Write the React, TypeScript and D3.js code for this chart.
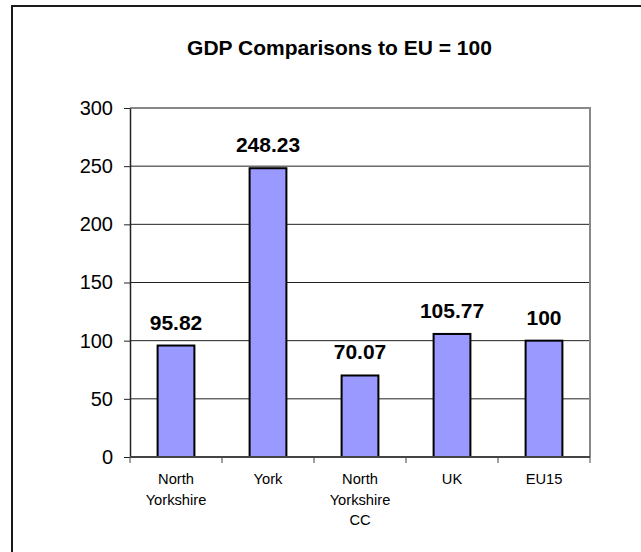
import * as React from "react";
import * as d3 from "d3";
import { useEffect, useRef } from "react";

const categories = ["North Yorkshire", "York", "North Yorkshire CC", "UK", "EU15"];
const labelLines = [["North", "Yorkshire"], ["York"], ["North", "Yorkshire", "CC"], ["UK"], ["EU15"]];
const values = [95.82, 248.23, 70.07, 105.77, 100];
const valueLabels = ["95.82", "248.23", "70.07", "105.77", "100"];
const yTicks = [0, 50, 100, 150, 200, 250, 300];
const title = "GDP Comparisons to EU = 100";

function drawChart(svgRef: React.RefObject<SVGSVGElement>) {
  const svg = d3.select(svgRef.current);
  svg.selectAll("*").remove();

  const width = 641;
  const height = 552;
  const left = 130;
  const right = 590;
  const top = 108;
  const bottom = 457;
  const font = "Arial, 'Liberation Sans', sans-serif";

  svg.attr("width", width).attr("height", height);

  // outer frame (right and bottom edges run off the picture)
  svg
    .append("rect")
    .attr("x", 12)
    .attr("y", 6)
    .attr("width", width + 20)
    .attr("height", height + 20)
    .attr("fill", "white")
    .attr("stroke", "#1a1a1a")
    .attr("stroke-width", 2);

  svg
    .append("text")
    .attr("x", 339.5)
    .attr("y", 55)
    .attr("text-anchor", "middle")
    .attr("font-family", font)
    .attr("font-weight", "bold")
    .attr("font-size", 21)
    .text(title);

  const x = d3.scaleBand().domain(categories).range([left, right]).paddingInner(0).paddingOuter(0);
  const y = d3.scaleLinear().domain([0, 300]).range([bottom, top]);

  // grid lines
  svg
    .append("g")
    .selectAll("line")
    .data(yTicks.filter((t) => t > 0 && t < 300))
    .enter()
    .append("line")
    .attr("x1", left)
    .attr("x2", right)
    .attr("y1", (d) => y(d))
    .attr("y2", (d) => y(d))
    .attr("stroke", "#222")
    .attr("stroke-width", 1);

  // plot area border top/right
  svg
    .append("path")
    .attr("d", `M${left},${y(300)}H${right}V${bottom}`)
    .attr("fill", "none")
    .attr("stroke", "#888")
    .attr("stroke-width", 2);

  // bars
  const barW = x.bandwidth() * 0.4;
  svg
    .append("g")
    .selectAll("rect")
    .data(values)
    .enter()
    .append("rect")
    .attr("x", (d, i) => x(categories[i])! + (x.bandwidth() - barW) / 2)
    .attr("y", (d) => y(d))
    .attr("width", barW)
    .attr("height", (d) => bottom - y(d))
    .attr("fill", "#9999ff")
    .attr("stroke", "#000")
    .attr("stroke-width", 2);

  // value labels
  svg
    .append("g")
    .selectAll("text")
    .data(values)
    .enter()
    .append("text")
    .attr("x", (d, i) => x(categories[i])! + x.bandwidth() / 2)
    .attr("y", (d) => y(d) - 16)
    .attr("text-anchor", "middle")
    .attr("font-family", font)
    .attr("font-weight", "bold")
    .attr("font-size", 21)
    .text((d, i) => valueLabels[i]);

  // y axis
  const yAxis = d3.axisLeft(y).tickValues(yTicks).tickSize(6).tickSizeOuter(0).tickPadding(11);
  const gy = svg
    .append("g")
    .attr("transform", `translate(${left},0)`)
    .call(yAxis);
  gy.select(".domain").attr("stroke", "#222").attr("stroke-width", 1.5);
  gy.selectAll(".tick line").attr("stroke", "#222");
  gy.selectAll(".tick text")
    .attr("font-family", font)
    .attr("font-size", 20)
    .attr("fill", "#000");

  // x axis
  svg
    .append("line")
    .attr("x1", left)
    .attr("x2", right)
    .attr("y1", bottom)
    .attr("y2", bottom)
    .attr("stroke", "#444")
    .attr("stroke-width", 2);

  const boundaries = categories.map((c) => x(c)!).concat([right]);
  svg
    .append("g")
    .selectAll("line")
    .data(boundaries)
    .enter()
    .append("line")
    .attr("x1", (d) => d)
    .attr("x2", (d) => d)
    .attr("y1", bottom)
    .attr("y2", bottom + 6)
    .attr("stroke", "#444")
    .attr("stroke-width", 1);

  const xl = svg
    .append("g")
    .selectAll("text")
    .data(categories)
    .enter()
    .append("text")
    .attr("x", (d) => x(d)! + x.bandwidth() / 2)
    .attr("y", 484)
    .attr("text-anchor", "middle")
    .attr("font-family", font)
    .attr("font-size", 14.7)
    .attr("fill", "#000");
  xl.selectAll("tspan")
    .data((d, i) => labelLines[i])
    .enter()
    .append("tspan")
    .attr("x", function () {
      return (this as SVGTSpanElement).parentElement!.getAttribute("x");
    })
    .attr("dy", (d, i) => (i === 0 ? 0 : 20.7))
    .text((d) => d);
}

export default function App() {
  const svg = useRef<SVGSVGElement>(null);
  useEffect(() => {
    drawChart(svg);
  }, []);
  return (
    <div style={{ position: "absolute", left: 0, top: 0 }}>
      <svg ref={svg} style={{ display: "block" }} />
    </div>
  );
}
